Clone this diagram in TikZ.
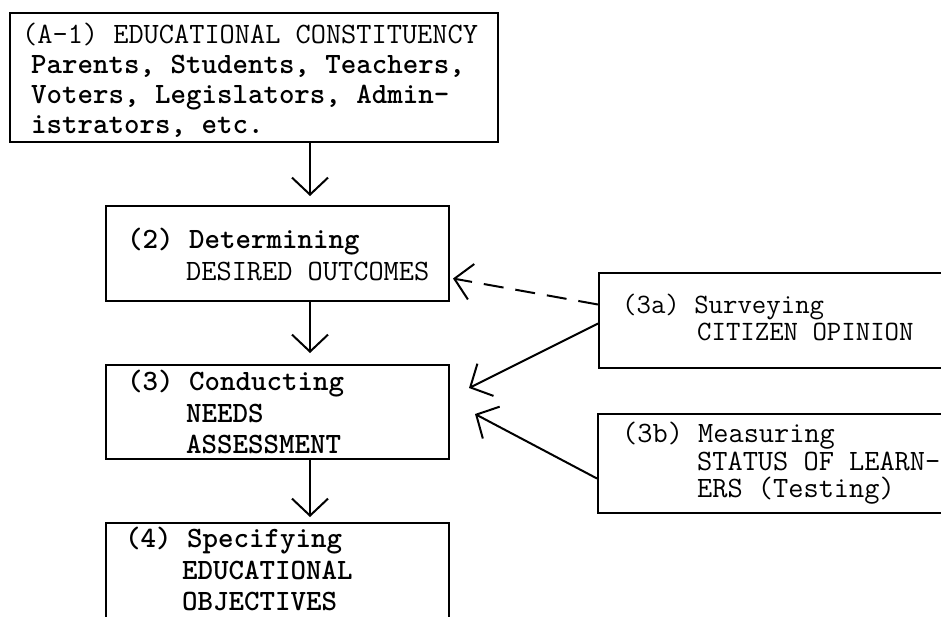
\documentclass[tikz,border=0pt]{standalone}
\usetikzlibrary{arrows.meta}
\begin{document}
\begin{tikzpicture}[x=1pt,y=-1pt,
  box/.style={draw, line width=2pt, rectangle, anchor=north west, inner sep=0pt},
  txt/.style={anchor=base west, inner sep=0pt, font=\fontsize{29.5}{30}\selectfont\ttfamily},
  btxt/.style={txt, font=\fontsize{29.5}{30}\selectfont\ttfamily\bfseries},
  stxt/.style={txt, font=\fontsize{28}{28}\selectfont\ttfamily},
  arr/.style={line width=2pt, -{Straight Barb[length=17pt,width=36pt,line width=2pt]}},
  dsh/.style={arr, dash pattern=on 20pt off 12pt}]
\useasboundingbox (0,0) rectangle (941,616);

% boxes
\node[box, minimum width=488pt, minimum height=129pt] (a1) at (9,12) {};
\node[box, minimum width=343pt, minimum height=95pt]  (b2) at (105,205) {};
\node[box, minimum width=343pt, minimum height=94pt]  (b3) at (105,364) {};
\node[box, minimum width=343pt, minimum height=130pt] (b4) at (105,522) {};
\node[box, minimum width=370pt, minimum height=95pt]  (s3a) at (598,272) {};
\node[box, minimum width=370pt, minimum height=99pt]  (s3b) at (597,413) {};

% texts
\node[txt]  (a1l1) at (22,43)  {(A-1) EDUCATIONAL CONSTITUENCY};
\node[btxt] (a1l2) at (31,73)  {Parents, Students, Teachers,};
\node[btxt] (a1l3) at (31,103) {Voters, Legislators, Admin-};
\node[btxt] (a1l4) at (31,133) {istrators, etc.};

\node[btxt] (b2l1) at (127,248) {(2) Determining};
\node[txt]  (b2l2) at (186,280) {DESIRED OUTCOMES};

\node[btxt] (b3l1) at (127,390) {(3) Conducting};
\node[btxt] (b3l2) at (186,422) {NEEDS};
\node[btxt] (b3l3) at (186,453) {ASSESSMENT};

\node[btxt] (b4l1) at (125,547) {(4) Specifying};
\node[btxt] (b4l2) at (182,579) {EDUCATIONAL};
\node[btxt] (b4l3) at (182,610) {OBJECTIVES};

\node[stxt] (s3al1) at (622,313) {(3a) Surveying};
\node[stxt] (s3al2) at (697,340) {CITIZEN OPINION};

\node[txt]  (s3bl1) at (622,442) {(3b) Measuring};
\node[txt]  (s3bl2) at (697,470) {STATUS OF LEARN-};
\node[txt]  (s3bl3) at (697,497) {ERS (Testing)};

% vertical flow
\coordinate (cx) at (310,0);
\draw[arr, shorten >=9pt]  (a1.south -| cx) -- (b2.north -| cx);
\draw[arr, shorten >=11pt] (b2.south -| cx) -- (b3.north -| cx);
\draw[arr, shorten >=5pt]  (b3.south -| cx) -- (b4.north -| cx);

% side inputs
\draw[dsh] ([yshift=16pt]s3a.west) -- ([xshift=3pt,yshift=-25pt]b2.east);
\draw[arr] ([yshift=-3pt]s3a.west) -- ([xshift=19pt,yshift=24pt]b3.east);
\draw[arr] ([yshift=-15pt]s3b.west) -- ([xshift=25pt,yshift=-2pt]b3.east);
\end{tikzpicture}
\end{document}
